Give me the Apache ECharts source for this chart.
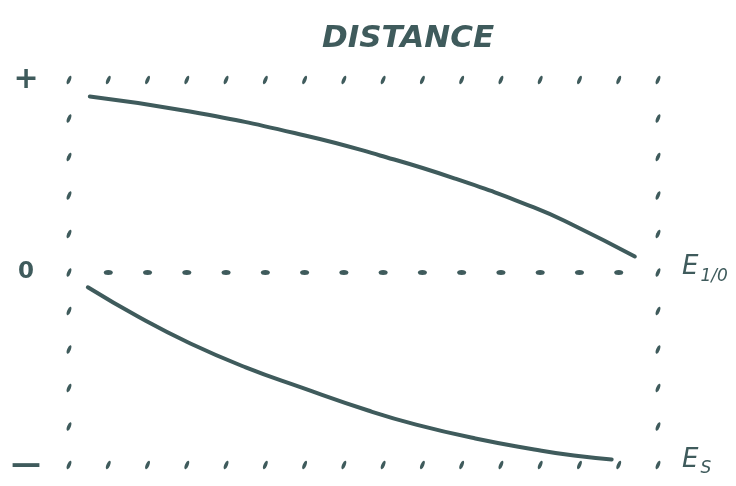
<!DOCTYPE html>
<html>
<head>
<meta charset="utf-8">
<title>Distance</title>
<script src="https://cdn.jsdelivr.net/npm/echarts@6/dist/echarts.min.js"></script>
<style>
    html, body { margin: 0; padding: 0; background: #fff; }
    .chart { width: 736px; height: 486px; }
</style>
</head>
<body>
<div class="chart"></div>
<script>
// ink colour of the sketch
var ink = '#3f5b5c';

// x runs in dot-spacing units (16 dot columns), y from - (-1) to + (1)
var dotCols = [0, 1, 2, 3, 4, 5, 6, 7, 8, 9, 10, 11, 12, 13, 14, 15];
var dotRows = [1, 0.8, 0.6, 0.4, 0.2, 0, -0.2, -0.4, -0.6, -0.8, -1];
var leftLabels = { '1': '{p|+}', '0': '{z|0}', '-1': '{m|—}' };
var rightLabels = { '0': '{e|E}{s|1/0}', '-1': '{e|E}{s|S}' };

// upper curve (E 1/0)
var upperX = [0.53, 3.08, 6.01, 7.92, 9.83, 11.84, 12.86, 14.41];
var upperY = [0.914, 0.836, 0.712, 0.608, 0.488, 0.338, 0.244, 0.083];

// lower curve (Es)
var lowerX = [0.48, 1.79, 3.09, 4.5, 5.91, 7.62, 8.84, 10.35, 11.85, 12.86, 13.82];
var lowerY = [-0.077, -0.233, -0.369, -0.493, -0.597, -0.717, -0.790, -0.862, -0.919, -0.951, -0.971];

function zip(xs, ys) {
    return xs.map(function (x, i) { return [x, ys[i]]; });
}

// dotted frame: + and - rows, 0 row, and the two side columns
var inner = dotCols.slice(1, -1);
var edgeDots = [];
inner.forEach(function (x) { edgeDots.push([x, 1], [x, -1]); });
[dotCols[0], dotCols[dotCols.length - 1]].forEach(function (x) {
    dotRows.forEach(function (y) { edgeDots.push([x, y]); });
});
var zeroDots = inner.map(function (x) { return [x, 0]; });

var myChart = echarts.init(document.querySelector('.chart'));

option = {
    animation: false,
    backgroundColor: '#fff',
    title: {
        text: 'DISTANCE',
        left: 317,
        top: 18,
        textStyle: {
            color: ink,
            fontFamily: 'DejaVu Sans',
            fontStyle: 'italic',
            fontWeight: 'bold',
            fontSize: 31
        }
    },
    grid: { left: 69, right: 78, top: 80, bottom: 21 },
    xAxis: {
        type: 'value',
        min: 0,
        max: 15,
        show: false
    },
    yAxis: [{
        type: 'value',
        min: -1,
        max: 1,
        interval: 1,
        axisLine: { show: false },
        axisTick: { show: false },
        splitLine: { show: false },
        axisLabel: {
            margin: 43,
            align: 'center',
            formatter: function (v) { return leftLabels[v] || ''; },
            rich: {
                p: { color: ink, fontSize: 30, fontWeight: 'bold', fontFamily: 'DejaVu Sans' },
                z: { color: ink, fontSize: 23, fontWeight: 'bold', fontFamily: 'DejaVu Sans' },
                m: { color: ink, fontSize: 30, fontWeight: 'bold', fontFamily: 'DejaVu Sans' }
            }
        }
    }, {
        type: 'value',
        position: 'right',
        min: -1,
        max: 1,
        interval: 1,
        axisLine: { show: false },
        axisTick: { show: false },
        splitLine: { show: false },
        axisLabel: {
            margin: 24,
            formatter: function (v) { return rightLabels[v] || ''; },
            rich: {
                e: { color: ink, fontSize: 26, fontStyle: 'italic', fontFamily: 'DejaVu Sans', padding: [0, 0, 10, 0] },
                s: { color: ink, fontSize: 17, fontStyle: 'italic', fontFamily: 'DejaVu Sans', padding: [8, 0, 0, 2] }
            }
        }
    }],
    series: [{
        // slanted dashes on the frame
        type: 'scatter',
        silent: true,
        symbol: 'circle',
        symbolSize: [3.5, 9],
        symbolRotate: -22,
        itemStyle: { color: ink, opacity: 1 },
        data: edgeDots
    }, {
        // flat dashes along the zero line
        type: 'scatter',
        silent: true,
        symbol: 'circle',
        symbolSize: [9, 5],
        itemStyle: { color: ink, opacity: 1 },
        data: zeroDots
    }, {
        name: 'E 1/0',
        type: 'line',
        smooth: 0.5,
        showSymbol: false,
        lineStyle: { color: ink, width: 4, cap: 'round' },
        data: zip(upperX, upperY)
    }, {
        name: 'Es',
        type: 'line',
        smooth: 0.5,
        showSymbol: false,
        lineStyle: { color: ink, width: 4, cap: 'round' },
        data: zip(lowerX, lowerY)
    }]
};
myChart.setOption(option);
</script>
</body>
</html>
